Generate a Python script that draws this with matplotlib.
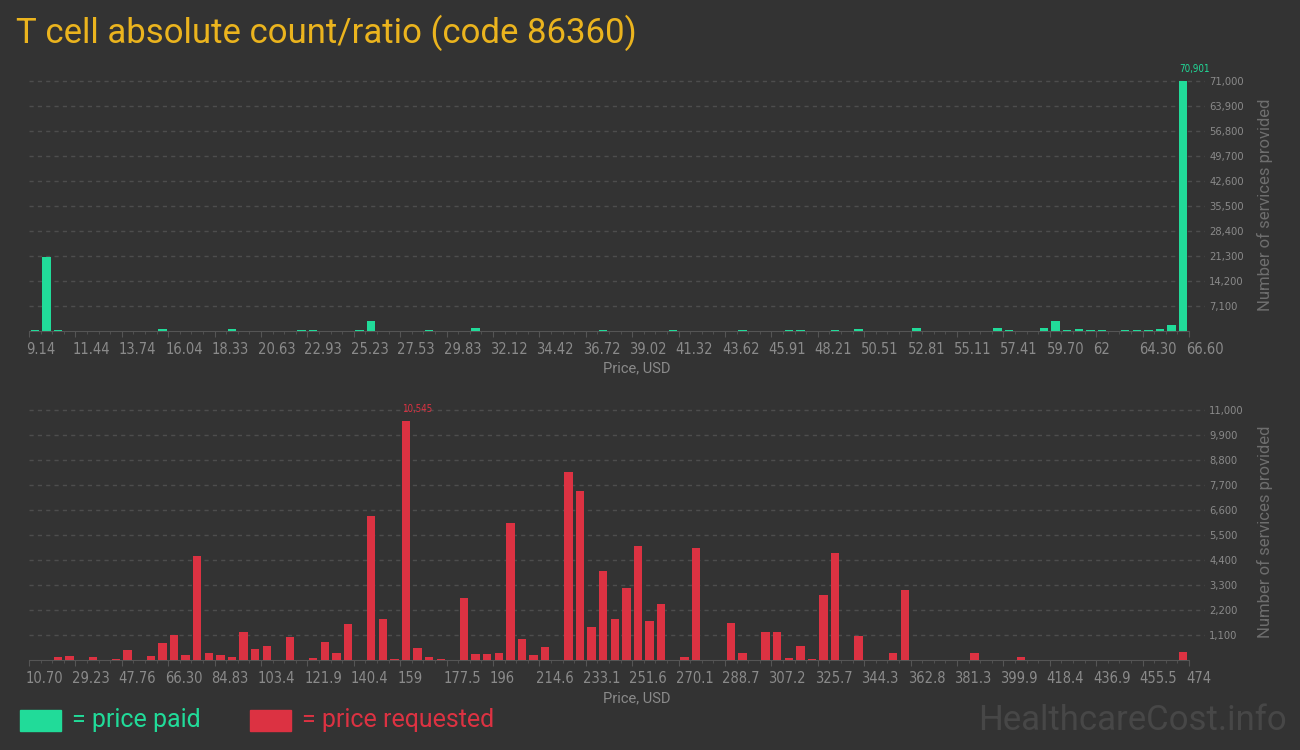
import matplotlib
matplotlib.use('Agg')
import matplotlib.pyplot as plt
import matplotlib.transforms as mtransforms
from matplotlib import font_manager
import numpy as np

# price bins: 100 equal bins (bin index -> count)
n_bins = 100

paid_bins = [0, 1, 2, 11, 17, 23, 24, 28, 29, 34, 38, 49, 55, 61, 65, 66, 69,
             71, 76, 83, 84, 87, 88, 89, 90, 91, 92, 94, 95, 96, 97, 98, 99]
paid_counts = [250, 21000, 200, 560, 560, 150, 150, 150, 2750, 150, 760, 150, 150, 150, 150, 150, 150,
               560, 850, 760, 150, 760, 2840, 150, 480, 250, 200, 200, 200, 200, 470, 1610, 70901]
paid_ticks = ['9.14', '11.44', '13.74', '16.04', '18.33', '20.63', '22.93', '25.23', '27.53',
              '29.83', '32.12', '34.42', '36.72', '39.02', '41.32', '43.62', '45.91', '48.21',
              '50.51', '52.81', '55.11', '57.41', '59.70', '62', '64.30', '66.60']

req_bins = [0, 2, 3, 4, 5, 7, 8, 10, 11, 12, 13, 14, 15, 16, 17, 18, 19, 20, 22, 23, 24, 25,
            26, 27, 29, 30, 31, 32, 33, 34, 35, 37, 38, 39, 40, 41, 42, 43, 44, 45, 46, 47,
            48, 49, 50, 51, 52, 53, 54, 56, 57, 58, 60, 61, 63, 64, 65, 66, 67, 68, 69, 71,
            74, 75, 81, 85, 99]
req_counts = [30, 150, 190, 30, 150, 60, 450, 190, 760, 1110, 235, 4590, 320, 235, 150, 1250,
              500, 630, 1030, 30, 100, 810, 320, 1600, 6350, 1820, 60, 10545, 540, 150, 60,
              2740, 280, 280, 320, 6040, 940, 235, 590, 30, 8290, 7450, 1470, 3930, 1820, 3180,
              5030, 1730, 2480, 150, 4940, 30, 1640, 320, 1250, 1250, 100, 630, 60, 2880, 4720,
              1070, 320, 3100, 320, 150, 370]
req_ticks = ['10.70', '29.23', '47.76', '66.30', '84.83', '103.4', '121.9', '140.4', '159',
             '177.5', '196', '214.6', '233.1', '251.6', '270.1', '288.7', '307.2', '325.7',
             '344.3', '362.8', '381.3', '399.9', '418.4', '436.9', '455.5', '474']

paid_yticks = [7100 * k for k in range(1, 11)]
req_yticks = [1100 * k for k in range(1, 11)]

bg = '#333333'
green = '#21db99'
red = '#dc3242'
gold = '#ebb41e'
gray = '#8a8a8a'

names = {f.name for f in font_manager.fontManager.ttflist}
if 'Liberation Sans Narrow' in names:
    narrow = font_manager.FontProperties(family='Liberation Sans Narrow')
else:
    narrow = font_manager.FontProperties(family='DejaVu Sans', stretch='condensed')
main_font = 'Roboto'

W, H = 1300, 750
fig = plt.figure(figsize=(13, 7.5), dpi=100, facecolor=bg)

bin_px = (1189 - 29) / n_bins


def make_axes(top_px, base_px, top_val, bins, counts, ticks, yticks, color):
    ax = fig.add_axes([29 / W, 1 - base_px / H, (1205 - 29) / W, (base_px - top_px) / H])
    ax.set_facecolor(bg)
    full = np.zeros(n_bins)
    full[bins] = counts
    x = np.arange(n_bins) + 0.5
    ax.bar(x, full, width=0.74, color=color, zorder=3)
    ax.set_xlim(0, 1176 / bin_px)
    ax.set_ylim(0, top_val * (base_px - top_px) / 250)

    # value label over the tallest bar
    i = int(np.argmax(full))
    ax.annotate(f'{int(full[i]):,}', (i + 0.13, full[i]), xytext=(0, 5),
                textcoords='offset points', ha='left', va='bottom', color=color,
                fontproperties=narrow, fontsize=7)

    for s in ['top', 'left', 'right']:
        ax.spines[s].set_visible(False)
    ax.spines['bottom'].set_color('#555555')
    ax.spines['bottom'].set_bounds(0, n_bins)

    ax.set_xticks(np.arange(0, n_bins + 1, 4))
    ax.set_xticklabels(ticks, fontproperties=narrow, fontsize=10.5, color=gray)
    ax.set_xticks(np.arange(0, n_bins + 1), minor=True)
    ax.tick_params(axis='x', which='major', length=4, color='#555555', pad=4)
    ax.tick_params(axis='x', which='minor', length=2, color='#555555')
    offset = mtransforms.ScaledTranslation(-3 / 100, 0, fig.dpi_scale_trans)
    for lbl in ax.get_xticklabels():
        lbl.set_horizontalalignment('left')
        lbl.set_transform(lbl.get_transform() + offset)

    ax.yaxis.tick_right()
    ax.set_yticks(yticks)
    ax.set_yticklabels([f'{v:,}' for v in yticks], fontproperties=narrow, fontsize=8, color=gray)
    ax.tick_params(axis='y', length=0, pad=3)
    ax.yaxis.grid(True, linestyle=(0, (3, 3)), color='#4d4d4d', lw=1)
    ax.set_axisbelow(True)
    return ax


make_axes(62, 330.7, 71000, paid_bins, paid_counts, paid_ticks, paid_yticks, green)
make_axes(392, 660.3, 11000, req_bins, req_counts, req_ticks, req_yticks, red)

fig.text(16 / W, 1 - 33 / H, 'T cell absolute count/ratio (code 86360)', color=gold,
         family=main_font, fontsize=25, ha='left', va='center')

for yc in [368, 698]:
    fig.text(637 / W, 1 - yc / H, 'Price, USD', color=gray, family=main_font,
             fontsize=10.5, ha='center', va='center')
for yc in [205, 532]:
    fig.text(1265 / W, 1 - yc / H, 'Number of services provided', color='#6e6e6e',
             family=main_font, fontsize=12, rotation=90, ha='center', va='center')

# legend
fig.patches.append(plt.Rectangle((20 / W, 1 - 731 / H), 41 / W, 21 / H,
                                 transform=fig.transFigure, color=green))
fig.text(72 / W, 1 - 720 / H, '= price paid', color=green, family=main_font,
         fontsize=18, ha='left', va='center')
fig.patches.append(plt.Rectangle((250 / W, 1 - 731 / H), 41 / W, 21 / H,
                                 transform=fig.transFigure, color=red))
fig.text(302 / W, 1 - 720 / H, '= price requested', color=red, family=main_font,
         fontsize=18, ha='left', va='center')

fig.text(1287 / W, 1 - 720 / H, 'HealthcareCost.info', color='#474747',
         family=main_font, fontsize=25, ha='right', va='center')

plt.savefig('out.png', dpi=100, facecolor=bg)
